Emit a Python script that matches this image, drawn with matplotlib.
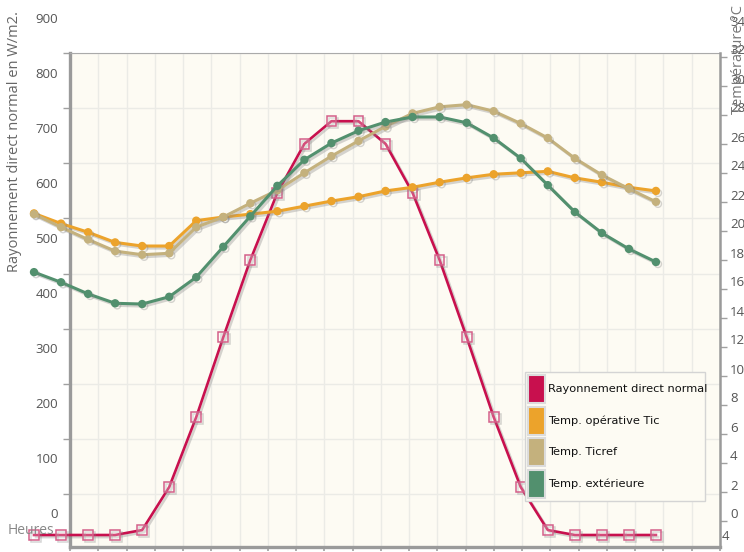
import matplotlib
matplotlib.use("Agg")
import matplotlib.pyplot as plt
import matplotlib.patheffects as pe
from matplotlib.patches import Rectangle

# hours of the day
heures = list(range(24))

# Rayonnement direct normal (W/m2)
rayonnement = [0, 0, 0, 0, 9, 87, 214, 359, 499, 621, 710, 751,
               751, 710, 621, 499, 359, 214, 87, 9, 0, 0, 0, 0]

# temperatures (deg C)
temp_tic = [20.8, 20.1, 19.5, 18.8, 18.55, 18.55, 20.3, 20.55, 20.75, 20.95, 21.3, 21.65,
            21.95, 22.35, 22.6, 22.95, 23.25, 23.5, 23.6, 23.7, 23.25, 22.95, 22.6, 22.35]
temp_ticref = [20.75, 19.85, 19.0, 18.2, 17.95, 18.05, 19.85, 20.55, 21.5, 22.4, 23.6, 24.75,
               25.8, 26.8, 27.7, 28.15, 28.3, 27.85, 27.0, 26.0, 24.6, 23.45, 22.5, 21.6]
temp_ext = [16.75, 16.05, 15.25, 14.6, 14.55, 15.05, 16.4, 18.5, 20.6, 22.7, 24.5, 25.65,
            26.5, 27.1, 27.45, 27.45, 27.05, 26.0, 24.6, 22.75, 20.9, 19.45, 18.35, 17.45]

labels_left = [0, 100, 200, 300, 400, 500, 600, 700, 800, 900]
labels_right = list(range(0, 36, 2))

series_names = ["Rayonnement direct normal", "Temp. opérative Tic", "Temp. Ticref", "Temp. extérieure"]

c_ray = "#c8104e"
c_tic = "#eca32b"
c_ref = "#c4b17d"
c_ext = "#52906e"

W, H = 744, 552
fig = plt.figure(figsize=(W / 100, H / 100), dpi=100)
# plot area in pixels: x 70..720, y 53..547
ax = fig.add_axes([70 / W, (H - 547) / H, 650 / W, 494 / H])
ax.set_facecolor("#fdfbf3")

# x mapping: hour i drawn at 34 + 27.04*i px (the chart is shifted against its grid)
px_x = 27.04
ax.set_xlim((70 - 34) / px_x, (720 - 34) / px_x)
xt = [(70 + 28.26 * k - 34) / px_x for k in range(24)]
ax.set_xticks(xt, labels=[])

# left axis: 0 at y=535 px, 0.551 px per unit
py_l = 0.551
ax.set_ylim(-12 / py_l, 482 / py_l)
yt = [41 / py_l + 100 * k for k in range(9)]
ax.set_yticks(yt, labels=[])
ax.grid(True, color="#ebebe6", linewidth=1)
ax.set_axisbelow(True)

shadow = [pe.SimpleLineShadow(offset=(1.5, -1.5), shadow_color="#888888", alpha=0.35), pe.Normal()]

ax.plot(heures, rayonnement, color=c_ray, linewidth=1.9, marker="s", markersize=7,
        markerfacecolor=(1, 1, 1, 0.25), markeredgecolor="#d4608a", markeredgewidth=1.1,
        clip_on=False, path_effects=shadow, zorder=3)

for s in ["left", "bottom"]:
    ax.spines[s].set_color("#9a9a9a")
    ax.spines[s].set_linewidth(2.4)
ax.spines["top"].set_color("#aaaaaa")
ax.spines["top"].set_linewidth(0.8)
ax.spines["right"].set_visible(False)
ax.tick_params(axis="y", direction="out", length=5, width=1, color="#a0a0a0")
ax.tick_params(axis="x", direction="out", length=3, width=1.2, color="#a0a0a0")

# right axis: temperatures, 0 at y=515 px, 14.5 px per degree
ax2 = ax.twinx()
py_r = 14.5
ax2.set_ylim((515 - 547) / py_r, (515 - 53) / py_r)
ax2.set_yticks([t - 6 / py_r for t in labels_right[:-1]], labels=[])
ax2.tick_params(axis="y", direction="out", length=5, width=1, color="#a0a0a0")
for s in ["left", "bottom", "top"]:
    ax2.spines[s].set_visible(False)
ax2.spines["right"].set_color("#9a9a9a")
ax2.spines["right"].set_linewidth(1.8)

for serie, col in [(temp_tic, c_tic), (temp_ticref, c_ref), (temp_ext, c_ext)]:
    ax2.plot(heures, serie, color=col, linewidth=2.2, marker="o", markersize=5,
             clip_on=False, path_effects=shadow, zorder=3)

# tick labels (shifted relative to the grid, as in the original)
tick_font = dict(family="Open Sans", fontsize=9.5, color="#555555")
for v in labels_left:
    ax.text(-12 / 650, 20 / py_l + v, str(v), transform=ax.get_yaxis_transform(),
            ha="right", va="center", clip_on=False, **tick_font)
for t in labels_right:
    ax2.text(1 + 10 / 650, t, str(t), transform=ax2.get_yaxis_transform(),
             ha="left", va="center", clip_on=False, **tick_font)

fig.text(15 / W, 1 - 142 / H, "Rayonnement direct normal en W/m2.", rotation=90,
         ha="center", va="center", family="Open Sans", fontsize=10.5, color="#666666")
fig.text(738 / W, 1 - 60 / H, "Température °C", rotation=90,
         ha="center", va="center", family="Open Sans", fontsize=10.5, color="#777777")
fig.text(8 / W, 1 - 531 / H, "Heures", ha="left", va="center",
         family="Open Sans", fontsize=10, color="#888888")
fig.text(722 / W, 1 - 537 / H, "4", ha="left", va="center",
         family="Open Sans", fontsize=9.5, color="#555555")

# legend box, drawn by hand (tall swatches like the original)
def fx(p):
    return p / W

def fy(p):
    return 1 - p / H

fig.patches.append(Rectangle((fx(525), fy(501)), fx(705) - fx(525), fy(372) - fy(501),
                             transform=fig.transFigure, facecolor="#fdfbf3",
                             edgecolor="#d4d4d4", linewidth=1, zorder=5))
for i, (name, col) in enumerate(zip(series_names, [c_ray, c_tic, c_ref, c_ext])):
    top = 375 + 31.7 * i
    fig.patches.append(Rectangle((fx(528), fy(top + 28)), fx(545) - fx(528), fy(top) - fy(top + 28),
                                 transform=fig.transFigure, facecolor=col,
                                 edgecolor="#dcdcdc", linewidth=1.5, zorder=6))
    fig.text(fx(548), fy(top + 14), name, ha="left", va="center", zorder=7,
             family="DejaVu Sans", fontsize=8.2, color="#111111")

fig.savefig("out.png", dpi=100)
